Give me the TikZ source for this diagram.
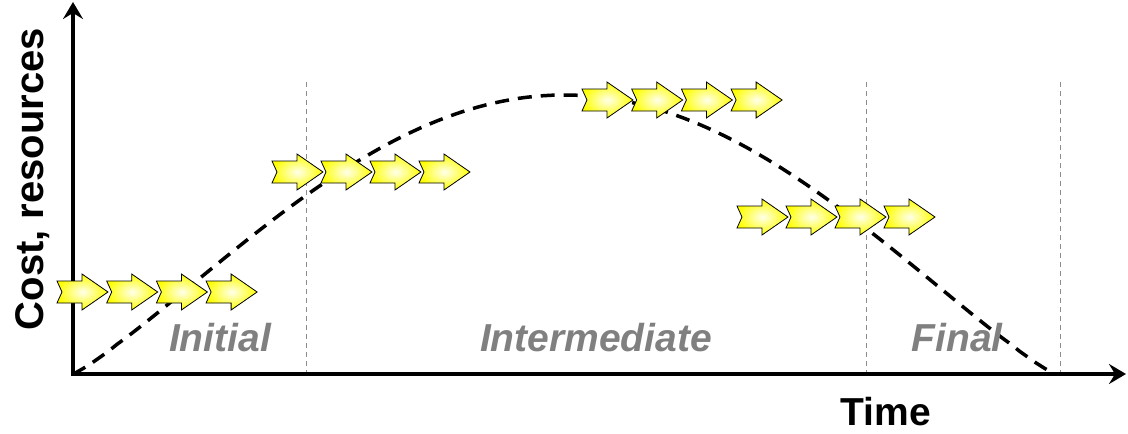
\documentclass[tikz,border=0pt]{standalone}
\usepackage{fontspec}
\setmainfont{Liberation Sans}
\usetikzlibrary{arrows.meta}
\tikzset{
  chev/.style={draw=black,line width=0.8pt,line join=miter,inner color=yellow!8,outer color=yellow},
  chevron/.pic={\path[chev] (0,-11) -- (25,-11) -- (25,-18) -- (51,0) -- (25,18) -- (25,11) -- (0,11) -- (5,0) -- cycle;},
  phase/.style={text=black!50,font=\bfseries\itshape\fontsize{39}{39}\selectfont,anchor=base,inner sep=0pt},
  axlabel/.style={text=black,font=\bfseries\fontsize{39}{39}\selectfont,anchor=base,inner sep=0pt},
  axis/.style={line width=4pt,line join=miter},
  guide/.style={draw=black!45,line width=1pt,dash pattern=on 5pt off 4pt},
  curve/.style={line width=3.5pt,dash pattern=on 14pt off 9pt},
  tip/.tip={Stealth[length=17pt,width=20pt,inset=6pt]}
}
\begin{document}
\begin{tikzpicture}[x=1pt,y=-1pt]
\useasboundingbox (0,0) rectangle (1128,434);
% phase boundaries
\foreach \n/\x in {g1/306,g2/866,g3/1060}{
  \coordinate (\n top) at (\x,82);
  \coordinate (\n bot) at (\x,374);
  \draw[guide] (\n top) -- (\n bot);
}
% axes
\coordinate (O) at (73,374);
\coordinate (Ytop) at (73,2);
\coordinate (Xend) at (1126,374);
\coordinate (Cend) at (1055,374);
\draw[axis,tip-tip] (Ytop) -- (O) -- (Xend);
% cost curve
\draw[curve] (O) -- plot[domain=0.5:179.5,samples=120] ({73+5.45556*\x},{374-279*(sin(\x))^1.15}) -- (Cend);
% phase labels
\node[phase] (initial) at (220,351) {Initial};
\node[phase] (intermediate) at (596,351) {Intermediate};
\node[phase] (final) at (957,351) {Final};
% axis labels
\node[axlabel] (time) at (886,425) {Time};
\node[axlabel,font=\bfseries\fontsize{40}{40}\selectfont,rotate=90] (cost) at (43,179) {Cost, resources};
% chevron rows
\foreach \i in {0,...,3}{
  \pic at ({57+49.7*\i},292) {chevron};
  \pic at ({272+49*\i},172) {chevron};
  \pic at ({582+49.7*\i},100) {chevron};
  \pic at ({737+49*\i},217) {chevron};
}
\end{tikzpicture}
\end{document}
